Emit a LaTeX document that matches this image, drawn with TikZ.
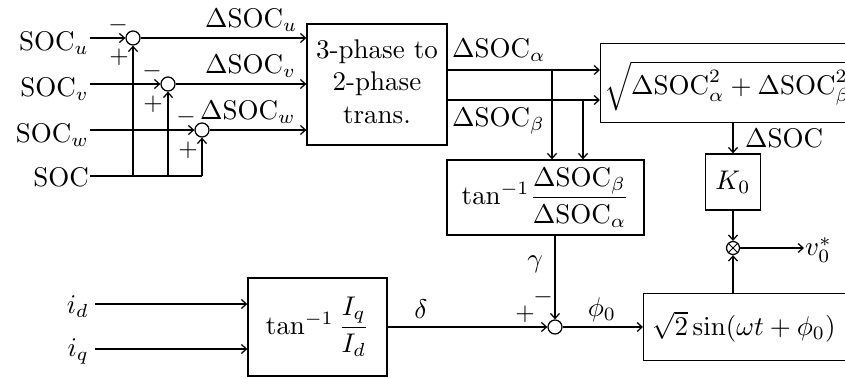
\RequirePackage{fix-cm}
\documentclass[tikz,border=0pt]{standalone}
\usepackage{graphicx}
\usetikzlibrary{arrows.meta}
\newcommand{\T}[1]{\scalebox{2.7}{#1}}
\newcommand{\Sg}[1]{\scalebox{2.5}{#1}}
\tikzset{
  ln/.style={line width=1.25pt},
  arr/.style={line width=1.25pt, -{Straight Barb[length=5pt,width=9pt]}},
  box/.style={draw, line width=1.35pt, inner sep=0pt},
  sumc/.style={circle, draw, line width=1.25pt, minimum size=14pt, inner sep=0pt},
  lbl/.style={inner sep=1pt},
  sgn/.style={inner sep=0pt}
}
\begin{document}
\begin{tikzpicture}[x=1pt, y=-1pt]
\clip (0,0) rectangle (845,378);
% input labels
\node[lbl, anchor=base east] (socu) at (90,50) {\T{SOC$_u$}};
\node[lbl, anchor=base east] (socv) at (90,96) {\T{SOC$_v$}};
\node[lbl, anchor=base east] (socw) at (90,142) {\T{SOC$_w$}};
\node[lbl, anchor=base east] (soc) at (90,186) {\T{SOC}};
% summing points
\node[sumc] (su) at (133,38) {};
\node[sumc] (sv) at (168,84) {};
\node[sumc] (sw) at (202,130) {};
\coordinate (j) at (202,176);
\draw[arr] (socu.east |- su) -- (su);
\draw[arr] (socv.east |- sv) -- (sv);
\draw[arr] (socw.east |- sw) -- (sw);
\draw[ln] (soc.east |- j) -- (j);
\draw[arr] (su |- j) -- (su);
\draw[arr] (sv |- j) -- (sv);
\draw[arr] (j) -- (sw);
% signs
\node[sgn] (mu) at (118,25) {\Sg{$-$}};
\node[sgn] (pu) at (119,57) {\Sg{$+$}};
\node[sgn] (mv) at (152,71) {\Sg{$-$}};
\node[sgn] (pv) at (153,104) {\Sg{$+$}};
\node[sgn] (mw) at (186,117) {\Sg{$-$}};
\node[sgn] (pw) at (188,150) {\Sg{$+$}};
% 3-phase to 2-phase
\node[box, minimum width=140pt, minimum height=121pt] (t32) at (377,84.5) {\T{\begin{tabular}{@{}c@{}}3-phase to\\2-phase\\trans.\end{tabular}}};
\draw[arr] (su) -- (su -| t32.west);
\draw[arr] (sv) -- (sv -| t32.west);
\draw[arr] (sw) -- (sw -| t32.west);
\node[lbl, anchor=base west] (lu) at (204,27) {\T{$\Delta\mathrm{SOC}_u$}};
\node[lbl, anchor=base west] (lv) at (204,73) {\T{$\Delta\mathrm{SOC}_v$}};
\node[lbl, anchor=base west] (lw) at (199,119) {\T{$\Delta\mathrm{SOC}_w$}};
% sqrt box
\node[box, minimum width=300pt, minimum height=79pt, anchor=north west] (sq) at (600,43) {};
\node[inner sep=0pt, anchor=west] (sqt) at (604,86) {\T{$\sqrt{\Delta\mathrm{SOC}_\alpha^2+\Delta\mathrm{SOC}_\beta^2}$}};
\coordinate (pa) at (447,70);
\coordinate (pb) at (447,100);
\draw[arr] (pa) -- (pa -| sq.west);
\draw[arr] (pb) -- (pb -| sq.west);
\node[lbl, anchor=base west] (la) at (451,57) {\T{$\Delta\mathrm{SOC}_\alpha$}};
\node[lbl, anchor=base west] (lb) at (451,126) {\T{$\Delta\mathrm{SOC}_\beta$}};
% arctan of alpha beta
\node[box, minimum width=197pt, minimum height=75pt] (ta) at (545.5,197.5) {\T{$\tan^{-1}\!{\displaystyle\frac{\Delta\mathrm{SOC}_\beta}{\Delta\mathrm{SOC}_\alpha}}$}};
\coordinate (ba) at (552,70);
\coordinate (bb) at (583,100);
\draw[arr] (ba) -- (ba |- ta.north);
\draw[arr] (bb) -- (bb |- ta.north);
% K0
\node[box, minimum width=55pt, minimum height=56pt] (k0) at (733,182) {\T{$K_0$}};
\draw[arr] (sq.south -| k0) -- (k0);
\node[lbl, anchor=base west] (ls) at (744,147) {\T{$\Delta\mathrm{SOC}$}};
% multiplier
\node[circle, draw, line width=1.25pt, minimum size=13pt, inner sep=0pt] (mul) at (733,248) {};
\draw[line width=1pt] (mul.north west) -- (mul.south east) (mul.north east) -- (mul.south west);
\draw[arr] (k0) -- (mul);
\node[lbl, anchor=west] (v0) at (804,250) {\T{$v_0^*$}};
\draw[arr] (mul) -- (v0.west |- mul);
% sin box
\node[box, minimum width=300pt, minimum height=67pt, anchor=north west] (sn) at (643,293) {};
\node[inner sep=0pt, anchor=west] (snt) at (652,327) {\T{$\sqrt{2}\sin(\omega t+\phi_0)$}};
\draw[arr] (sn.north -| mul) -- (mul);
% phase sum
\node[sumc] (s0) at (555,327) {};
\draw[arr] (ta.south -| s0) -- (s0);
\draw[arr] (s0) -- (s0 -| sn.west);
\node[lbl] (lg) at (535,264) {\T{$\gamma$}};
\node[sgn] (m0) at (543,297) {\Sg{$-$}};
\node[sgn] (p0) at (525,314) {\Sg{$+$}};
\node[lbl] (lp) at (602,310) {\T{$\phi_0$}};
% arctan Iq/Id
\node[box, minimum width=139pt, minimum height=98pt] (ti) at (317.5,327) {\T{$\tan^{-1}{\displaystyle\frac{I_q}{I_d}}$}};
\draw[arr] (ti) -- (s0);
\node[lbl] (ld) at (421,309) {\T{$\delta$}};
\node[lbl, anchor=base east] (id) at (90,313) {\T{$i_d$}};
\node[lbl, anchor=base east] (iq) at (90,356) {\T{$i_q$}};
\coordinate (cd) at (95,304);
\coordinate (cq) at (95,349);
\draw[arr] (cd) -- (cd -| ti.west);
\draw[arr] (cq) -- (cq -| ti.west);
\end{tikzpicture}
\end{document}
